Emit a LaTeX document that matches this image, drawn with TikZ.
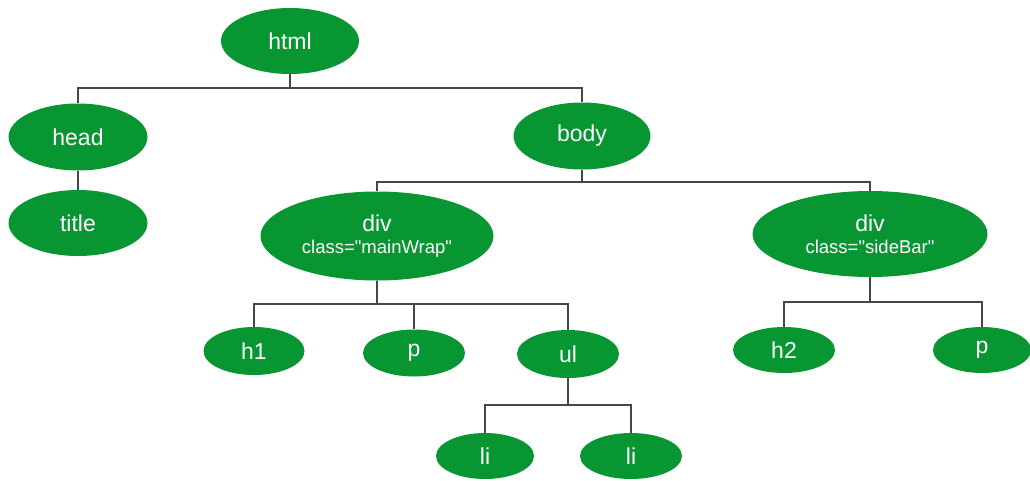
\documentclass[tikz,border=0pt]{standalone}
\usepackage{fontspec}
% plain family: keeps the straight quote marks in the class names
\newfontfamily\labelfont{Liberation Sans}
\usetikzlibrary{shapes.geometric}
\definecolor{leaf}{RGB}{8,150,50}
\definecolor{wire}{RGB}{70,70,70}
\tikzset{
  tag/.style={ellipse, fill=leaf, draw=none, inner sep=0pt, text=white,
              font=\labelfont\fontsize{23}{25}\selectfont},
  conn/.style={draw=wire, line width=1.4pt},
}
\newcommand{\classname}[1]{{\fontsize{18.5}{20}\selectfont class="#1"}}
\begin{document}
\begin{tikzpicture}[x=1pt,y=-1pt]
\useasboundingbox (0,0) rectangle (1030,480);

% element nodes
\node[tag, minimum width=138pt, minimum height=66pt] (html) at (290,41) {html};
\node[tag, minimum width=139pt, minimum height=67pt] (head) at (78,137) {head};
\node[tag, minimum width=139pt, minimum height=66pt] (title) at (78,223) {title};
\node[tag, minimum width=137pt, minimum height=67pt] (body) at (582,136) {body};
\node[tag, minimum width=233pt, minimum height=89pt, align=center] (main) at (377,236)
  {div\\[-3pt]\classname{mainWrap}};
\node[tag, minimum width=235pt, minimum height=86pt, align=center] (side) at (870,234)
  {div\\[-3pt]\classname{sideBar}};
\node[tag, minimum width=101pt, minimum height=48pt] (h1) at (254,351) {h1};
\node[tag, minimum width=102pt, minimum height=47pt] (p1) at (414,353) {p};
\node[tag, minimum width=102pt, minimum height=48pt] (ul) at (568,354) {ul};
\node[tag, minimum width=102pt, minimum height=46pt] (h2) at (784,350) {h2};
\node[tag, minimum width=98pt, minimum height=46pt] (p2) at (982,350) {p};
\node[tag, minimum width=98pt, minimum height=46pt] (li1) at (485,456) {li};
\node[tag, minimum width=102pt, minimum height=46pt] (li2) at (631,456) {li};

% tree connectors
\draw[conn] (html.south) -- (html.south |- 0,88);
\draw[conn] (head.north) -- (head.north |- 0,88) -- (body.north |- 0,88) -- (body.north);
\draw[conn] (head.south) -- (title.north);

\draw[conn] (body.south) -- (body.south |- 0,182);
\draw[conn] (main.north) -- (main.north |- 0,182) -- (side.north |- 0,182) -- (side.north);

\draw[conn] (main.south) -- (main.south |- 0,304);
\draw[conn] (h1.north) -- (h1.north |- 0,304) -- (ul.north |- 0,304) -- (ul.north);
\draw[conn] (p1.north) -- (p1.north |- 0,304);

\draw[conn] (side.south) -- (side.south |- 0,302);
\draw[conn] (h2.north) -- (h2.north |- 0,302) -- (p2.north |- 0,302) -- (p2.north);

\draw[conn] (ul.south) -- (ul.south |- 0,405);
\draw[conn] (li1.north) -- (li1.north |- 0,405) -- (li2.north |- 0,405) -- (li2.north);
\end{tikzpicture}
\end{document}
